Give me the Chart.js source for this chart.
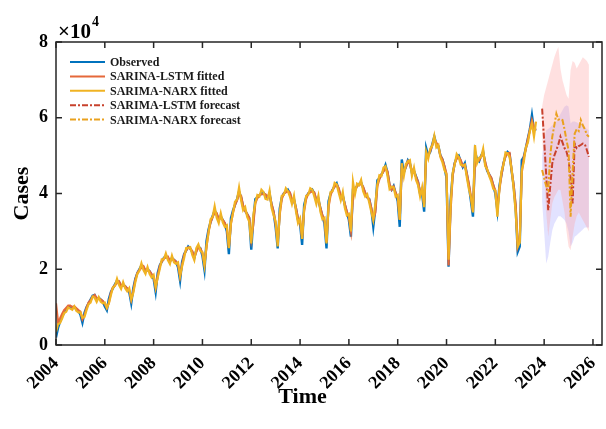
<!DOCTYPE html>
<html><head><meta charset="utf-8">
<script src="https://cdn.jsdelivr.net/npm/chart.js@4.4.1/dist/chart.umd.min.js"></script>
<style>html,body{margin:0;padding:0;background:#fff}</style>
</head><body>
<canvas id="c" width="606" height="429"></canvas>
<script>
// monthly series, values in cases x10^4
const fitStartYear = 2004;          // Jan 2004
const forecastStartYear = 2023 + 11/12; // Dec 2023
const xTickYears = [2004,2006,2008,2010,2012,2014,2016,2018,2020,2022,2024,2026];
const yTickValues = [0,2,4,6,8];
const xAxisTitle = 'Time';
const yAxisTitle = 'Cases';

const observed = [
0.20,0.45,0.62,0.75,0.85,0.95,1.00,1.02,0.98,1.00,0.95,0.90,
0.80,0.59,0.85,1.00,1.10,1.20,1.30,1.32,1.20,1.25,1.20,1.15,
1.02,0.92,1.22,1.40,1.50,1.60,1.70,1.66,1.55,1.60,1.55,1.48,
1.40,1.10,1.50,1.75,1.90,2.00,2.10,2.05,1.95,2.00,1.95,1.85,
1.75,1.40,1.90,2.10,2.20,2.30,2.35,2.30,2.20,2.30,2.25,2.20,
2.05,1.70,2.20,2.40,2.50,2.60,2.55,2.45,2.30,2.50,2.60,2.55,
2.35,1.98,2.75,3.05,3.25,3.40,3.55,3.45,3.30,3.40,3.30,3.20,
3.00,2.40,3.35,3.55,3.70,3.85,4.05,3.90,3.65,3.55,3.45,3.35,
2.52,3.30,3.85,3.90,3.95,4.00,4.02,3.95,3.90,4.00,3.70,3.50,
3.10,2.55,3.60,3.90,4.00,4.05,4.10,4.00,3.80,3.85,3.60,3.30,
3.20,2.64,3.70,3.90,4.00,4.05,4.10,4.00,3.80,3.85,3.60,3.40,
3.20,2.55,3.80,4.00,4.10,4.20,4.27,4.10,3.90,3.95,3.70,3.50,
3.30,2.86,4.10,4.10,4.20,4.25,4.29,4.15,4.00,3.90,3.85,3.60,
3.12,3.60,4.35,4.40,4.50,4.60,4.75,4.55,4.20,4.10,4.20,4.00,
3.80,3.12,4.90,4.55,4.70,4.88,4.80,4.55,4.60,4.45,4.30,4.00,
4.00,3.52,5.20,5.00,5.10,5.30,5.50,5.30,5.25,5.00,4.90,4.70,
4.40,2.07,3.80,4.50,4.80,4.95,5.00,4.85,4.70,4.80,4.50,4.20,
3.80,3.39,5.10,4.90,4.85,5.00,5.10,4.80,4.60,4.50,4.40,4.20,
4.00,3.55,4.20,4.50,4.80,5.00,5.10,5.05,4.60,4.20,3.60,2.46,
2.60,4.88,4.97,5.20,5.45,5.70,6.07,5.67,5.70
];
const lstmFitted = [
1.10,0.60,0.70,0.82,0.92,0.98,1.04,1.04,1.00,1.02,0.97,0.92,
0.88,0.68,0.78,0.98,1.12,1.18,1.27,1.32,1.24,1.22,1.20,1.16,
1.08,0.98,1.12,1.38,1.52,1.58,1.64,1.68,1.57,1.57,1.55,1.50,
1.45,1.20,1.42,1.72,1.90,1.98,2.04,2.08,1.96,1.97,1.95,1.87,
1.80,1.52,1.82,2.08,2.20,2.28,2.31,2.33,2.22,2.26,2.25,2.20,
2.12,1.82,2.12,2.38,2.50,2.58,2.54,2.48,2.33,2.46,2.58,2.55,
2.42,2.12,2.60,3.00,3.24,3.38,3.50,3.48,3.32,3.36,3.30,3.22,
3.08,2.58,3.20,3.50,3.70,3.82,3.98,3.94,3.68,3.54,3.46,3.36,
2.80,3.18,3.75,3.88,3.96,3.98,3.98,3.98,3.91,3.96,3.72,3.52,
3.18,2.72,3.45,3.85,4.00,4.03,4.06,4.03,3.82,3.82,3.62,3.33,
3.28,2.82,3.55,3.86,4.00,4.03,4.06,4.03,3.82,3.82,3.62,3.42,
3.28,2.72,3.65,3.96,4.10,4.18,4.23,4.14,3.92,3.92,3.72,3.52,
3.38,3.02,3.90,4.08,4.20,4.23,4.25,4.18,4.02,3.90,3.85,3.62,
3.32,3.50,4.20,4.38,4.50,4.58,4.68,4.58,4.24,4.10,4.18,4.02,
3.88,3.32,4.65,4.58,4.70,4.85,4.78,4.60,4.58,4.44,4.30,4.05,
4.08,3.72,5.00,5.02,5.12,5.28,5.43,5.34,5.24,5.00,4.90,4.72,
4.52,2.10,3.55,4.45,4.80,4.92,4.96,4.88,4.72,4.76,4.52,4.25,
3.92,3.52,4.85,4.88,4.87,4.98,5.06,4.84,4.62,4.50,4.42,4.22,
4.08,3.62,4.10,4.48,4.80,4.98,5.06,5.07,4.62,4.23,3.70,2.60,
2.78,4.55,4.95,5.18,5.44,5.68,5.93,5.74,5.68
];
const narxFitted = [
0.35,0.55,0.58,0.70,0.84,0.88,0.99,0.96,0.93,1.02,0.90,0.86,
0.86,0.72,0.74,0.92,1.08,1.12,1.28,1.25,1.14,1.26,1.14,1.10,
1.12,0.98,1.10,1.32,1.52,1.56,1.75,1.58,1.48,1.66,1.50,1.42,
1.50,1.20,1.38,1.66,1.88,1.96,2.16,1.98,1.88,2.06,1.88,1.78,
1.85,1.52,1.78,2.00,2.26,2.26,2.42,2.24,2.14,2.36,2.18,2.14,
2.18,1.82,2.08,2.30,2.56,2.56,2.58,2.38,2.24,2.56,2.66,2.48,
2.45,2.10,2.62,2.96,3.32,3.38,3.66,3.36,3.22,3.48,3.24,3.12,
3.16,2.56,3.22,3.48,3.78,3.84,4.16,3.82,3.56,3.64,3.38,3.26,
2.68,3.42,3.76,3.96,3.92,4.10,4.04,3.86,3.84,4.08,3.62,3.42,
3.26,2.60,3.48,3.94,3.96,4.14,4.06,3.92,3.72,3.94,3.52,3.22,
3.34,2.80,3.58,3.94,3.96,4.14,4.10,3.92,3.72,3.94,3.52,3.32,
3.36,2.68,3.68,4.04,4.06,4.28,4.24,4.02,3.82,4.04,3.62,3.42,
3.46,3.00,4.31,3.98,4.26,4.22,4.36,4.06,3.92,3.98,3.76,3.52,
3.30,3.72,4.24,4.48,4.46,4.68,4.72,4.46,4.12,4.18,4.16,3.92,
3.96,3.30,4.80,4.46,4.78,4.84,4.88,4.46,4.68,4.36,4.22,3.92,
4.16,3.64,5.10,4.92,5.18,5.26,5.52,5.22,5.28,4.96,4.82,4.62,
4.50,2.25,3.65,4.54,4.76,5.04,4.96,4.76,4.74,4.76,4.42,4.12,
3.90,3.50,5.28,4.80,4.94,4.96,5.18,4.72,4.64,4.46,4.32,4.12,
4.08,3.39,4.12,4.58,4.76,5.08,5.06,4.96,4.64,4.12,3.50,2.60,
2.70,4.62,4.84,5.22,5.34,5.66,5.84,5.50,5.90
];
const lstmForecast = [6.24,5.40,4.50,3.56,4.20,4.80,5.00,5.15,5.30,5.50,5.35,5.20,
5.10,4.90,4.40,3.74,5.32,5.20,5.25,5.28,5.32,5.30,5.15,4.97];
const narxForecast = [4.62,4.40,4.20,4.09,5.00,5.50,5.80,6.11,5.95,5.97,5.94,5.70,
5.40,5.15,3.39,4.60,5.58,5.70,5.65,5.94,5.80,5.70,5.55,5.50];
const lstmUpper = [6.3,6.6,6.8,7.0,7.2,7.4,7.6,7.75,7.87,7.3,7.0,6.8,
6.6,6.5,7.26,7.5,7.45,7.3,7.4,7.5,7.6,7.55,7.5,7.4];
const lstmLower = [5.5,4.5,3.5,2.86,3.3,3.74,3.9,4.0,4.1,4.09,3.8,3.5,
3.0,2.6,2.5,2.86,3.2,3.4,3.5,3.4,3.3,3.2,3.1,3.0];
const narxUpper = [5.0,5.4,5.67,5.7,5.75,5.8,5.85,5.9,6.0,6.1,6.2,6.29,
6.33,6.3,5.85,5.9,5.9,5.88,5.85,5.85,5.8,5.75,5.7,5.67];
const narxLower = [3.8,3.0,2.15,2.33,2.7,3.03,3.2,3.3,3.4,3.4,3.35,3.3,
3.2,3.0,2.6,2.7,2.86,2.9,2.95,3.0,3.05,3.1,3.1,3.1];

const toPts = (arr, start) => arr.map((v, i) => ({x: start + i/12, y: v}));
const SERIF = '"Liberation Serif", "Times New Roman", serif';

const datasets = [
  {label:'NARX upper', data:toPts(narxUpper, forecastStartYear), borderWidth:0, pointRadius:0,
   backgroundColor:'rgba(150,150,255,0.28)', fill:{target:1}, order:20},
  {label:'NARX lower', data:toPts(narxLower, forecastStartYear), borderWidth:0, pointRadius:0, fill:false, order:21},
  {label:'LSTM upper', data:toPts(lstmUpper, forecastStartYear), borderWidth:0, pointRadius:0,
   backgroundColor:'rgba(255,160,160,0.32)', fill:{target:3}, order:18},
  {label:'LSTM lower', data:toPts(lstmLower, forecastStartYear), borderWidth:0, pointRadius:0, fill:false, order:19},
  {label:'Observed', legend:true, data:toPts(observed, fitStartYear), borderColor:'#0072BD', borderWidth:2.4, order:5},
  {label:'SARINA-LSTM fitted', legend:true, data:toPts(lstmFitted, fitStartYear), borderColor:'#E5683A', borderWidth:2.2, order:4},
  {label:'SARIMA-NARX fitted', legend:true, data:toPts(narxFitted, fitStartYear), borderColor:'#F0B323', borderWidth:2.2, order:3},
  {label:'SARIMA-LSTM forecast', legend:true, data:toPts(lstmForecast, forecastStartYear), borderColor:'#C8412C', borderWidth:2, borderDash:[6,2,2,2], order:2},
  {label:'SARIMA-NARX forecast', legend:true, data:toPts(narxForecast, forecastStartYear), borderColor:'#EAA11E', borderWidth:2, borderDash:[6,2,2,2], order:1}
];

const framePlugin = {
  id:'frame',
  afterDraw(chart){
    const {ctx, chartArea:{left,right,top,bottom}, scales:{x,y}} = chart;
    ctx.save();
    ctx.strokeStyle = '#262626'; ctx.lineWidth = 1.5;
    ctx.strokeRect(left, top, right-left, bottom-top);
    ctx.beginPath();
    xTickYears.forEach(v => { const px = x.getPixelForValue(v);
      ctx.moveTo(px,bottom); ctx.lineTo(px,bottom-6); ctx.moveTo(px,top); ctx.lineTo(px,top+6); });
    yTickValues.forEach(v => { const py = y.getPixelForValue(v);
      ctx.moveTo(left,py); ctx.lineTo(left+6,py); ctx.moveTo(right,py); ctx.lineTo(right-6,py); });
    ctx.stroke();
    // exponent label
    ctx.fillStyle = '#000';
    ctx.textBaseline = 'alphabetic'; ctx.textAlign = 'left';
    ctx.font = 'bold 21px ' + SERIF;
    ctx.fillText('\u00d710', left+2, top-4);
    const w = ctx.measureText('\u00d710').width;
    ctx.font = 'bold 14px ' + SERIF;
    ctx.fillText('4', left+3+w, top-16);
    // x axis title
    ctx.font = 'bold 22px ' + SERIF;
    ctx.textAlign = 'center'; ctx.textBaseline = 'middle';
    ctx.fillText(xAxisTitle, x.getPixelForValue(2014.1), 397);
    // legend
    const items = chart.data.datasets.filter(d => d.legend);
    ctx.font = 'bold 12px ' + SERIF;
    ctx.textAlign = 'left';
    items.forEach((d, i) => {
      const yy = top + 20 + i*14.4;
      ctx.beginPath();
      ctx.strokeStyle = d.borderColor; ctx.lineWidth = 2;
      ctx.setLineDash(d.borderDash || []);
      ctx.moveTo(left+14, yy); ctx.lineTo(left+49, yy); ctx.stroke();
      ctx.setLineDash([]);
      ctx.fillStyle = '#1a1a1a';
      ctx.fillText(d.label, left+54, yy+1);
    });
    ctx.restore();
  }
};

new Chart(document.getElementById('c'), {
  type:'line',
  data:{datasets},
  options:{
    responsive:false, animation:false, devicePixelRatio:1,
    layout:{padding:{top:42, right:4, left:0, bottom:0}},
    elements:{point:{radius:0}, line:{tension:0}},
    plugins:{legend:{display:false}, tooltip:{enabled:false}},
    scales:{
      x:{type:'linear', min:2004, max:2026.37,
        afterBuildTicks: s => { s.ticks = xTickYears.map(v => ({value:v})); },
        afterFit: s => { s.height = 84; s.paddingRight = 0; s.paddingLeft = 0; },
        grid:{display:false, drawTicks:false}, border:{display:false},
        ticks:{minRotation:45, maxRotation:45, padding:8, color:'#000', autoSkip:false,
          callback: v => String(v),
          font:{family:SERIF, size:18, weight:'bold'}},
        title:{display:false}},
      y:{min:0, max:8,
        afterBuildTicks: s => { s.ticks = yTickValues.map(v => ({value:v})); },
        afterFit: s => { s.width = 56; s.paddingTop = 0; s.paddingBottom = 0; },
        grid:{display:false, drawTicks:false}, border:{display:false},
        ticks:{padding:8, color:'#000', font:{family:SERIF, size:18, weight:'bold'}},
        title:{display:true, text:yAxisTitle, color:'#000', padding:{top:9,bottom:0},
          font:{family:SERIF, size:22, weight:'bold'}}}
    }
  },
  plugins:[framePlugin]
});
</script>
</body></html>
